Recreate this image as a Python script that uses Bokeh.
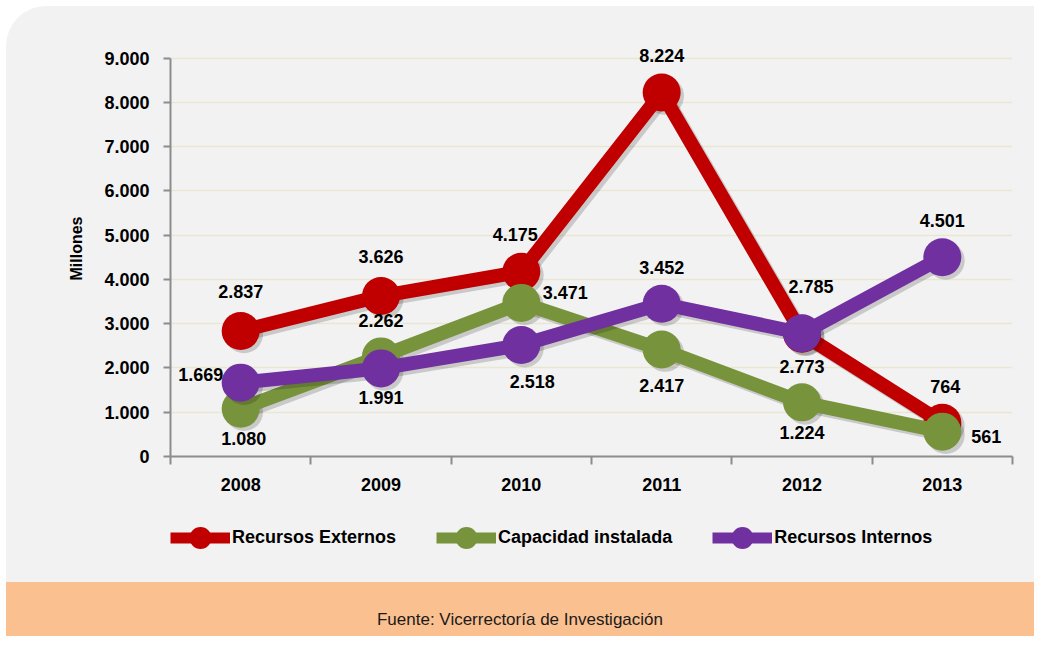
from bokeh.plotting import figure
from bokeh.models import ColumnDataSource, FixedTicker, Legend, LegendItem, CustomJSTickFormatter, Div
from bokeh.layouts import column
from bokeh.transform import dodge
from bokeh.core.properties import value
from bokeh.embed import file_html
from bokeh.resources import INLINE

# ---------------- data ----------------
years = ["2008", "2009", "2010", "2011", "2012", "2013"]
externos = [2837, 3626, 4175, 8224, 2773, 764]
capacidad = [1080, 2262, 3471, 2417, 1224, 561]
internos = [1669, 1991, 2518, 3452, 2785, 4501]
y_ticks = [0, 1000, 2000, 3000, 4000, 5000, 6000, 7000, 8000, 9000]
series_names = ["Recursos Externos", "Capacidad instalada", "Recursos Internos"]
footer_text = "Fuente: Vicerrectoría de Investigación"

# ---------------- styling ----------------
FONT = "Liberation Sans"
BG = "#f2f2f2"
colors = ["#c00000", "#77933c", "#7030a0"]
# label offsets (pixels) per point: (dx, dy), dy positive = down
label_dx = [
    [0, 0, -6, 0, 0, 3],
    [3, 0, 44, 0, 0, 44],
    [-40, 0, 11, 0, 9, 0],
]
label_dy = [
    [-39, -40, -37, -37, 33, -36],
    [30, -36, -10, 36, 30, 5],
    [-8, 29, 36, -36, -47, -37],
]

n = len(years)
xs = [i + 0.5 for i in range(n)]

p = figure(width=1028, height=494, x_range=(0, n), y_range=(0, 9400),
           output_backend="svg", toolbar_location=None,
           min_border_left=164, min_border_right=22, min_border_top=34, min_border_bottom=44)
p.background_fill_alpha = 0
p.border_fill_alpha = 0
p.outline_line_color = None

# x axis
p.xaxis.ticker = FixedTicker(ticks=xs, minor_ticks=list(range(n + 1)))
p.xaxis.formatter = CustomJSTickFormatter(args=dict(labels=years), code="return labels[Math.floor(tick)];")
p.xaxis.major_tick_line_color = None
p.xaxis.major_tick_out = 8
p.xaxis.major_tick_in = 0
p.xaxis.minor_tick_out = 8
p.xaxis.minor_tick_in = 0
p.xaxis.minor_tick_line_color = "#8c8c8c"
p.xaxis.minor_tick_line_width = 2
p.xaxis.axis_line_color = "#8c8c8c"
p.xaxis.axis_line_width = 2
p.xaxis.major_label_standoff = 13
p.xaxis.major_label_text_font = FONT
p.xaxis.major_label_text_font_style = "bold"
p.xaxis.major_label_text_font_size = "18px"
p.xaxis.major_label_text_color = "black"

# y axis
p.yaxis.ticker = FixedTicker(ticks=y_ticks)
p.yaxis.bounds = (y_ticks[0], y_ticks[-1])
p.yaxis.formatter = CustomJSTickFormatter(
    code="return tick.toFixed(0).replace(/\\B(?=(\\d{3})+(?!\\d))/g, '.');")
p.yaxis.major_tick_out = 7
p.yaxis.major_tick_in = 0
p.yaxis.minor_tick_line_color = None
p.yaxis.major_tick_line_color = "#8c8c8c"
p.yaxis.major_tick_line_width = 2
p.yaxis.axis_line_color = "#8c8c8c"
p.yaxis.axis_line_width = 2
p.yaxis.major_label_standoff = 14
p.yaxis.major_label_text_font = FONT
p.yaxis.major_label_text_font_style = "bold"
p.yaxis.major_label_text_font_size = "18px"
p.yaxis.major_label_text_color = "black"
p.yaxis.axis_label = "Millones"
p.yaxis.axis_label_text_font = FONT
p.yaxis.axis_label_text_font_style = "bold"
p.yaxis.axis_label_text_font_size = "16px"
p.yaxis.axis_label_text_color = "black"
p.yaxis.axis_label_standoff = 16

p.xgrid.visible = False
p.ygrid.ticker = FixedTicker(ticks=y_ticks)
p.ygrid.grid_line_color = "#e9e7d4"
p.ygrid.grid_line_width = 1.5

for k, vals in enumerate([externos, capacidad, internos]):
    labels = [f"{v:,}".replace(",", ".") for v in vals]
    src = ColumnDataSource(dict(x=xs, y=vals, label=labels, dx=label_dx[k], dy=label_dy[k]))
    # shadow
    p.line(x=dodge("x", 0.024), y=dodge("y", -75), source=src, line_width=14,
           line_color="black", line_alpha=0.17, line_join="round")
    p.scatter(x=dodge("x", 0.024), y=dodge("y", -75), source=src, size=38,
              fill_color="black", fill_alpha=0.17, line_color=None)
    p.line(x="x", y="y", source=src, line_width=14, line_color=colors[k], line_join="round")
    p.scatter(x="x", y="y", source=src, size=38, fill_color=colors[k], line_color=None)

for k, vals in enumerate([externos, capacidad, internos]):
    labels = [f"{v:,}".replace(",", ".") for v in vals]
    src = ColumnDataSource(dict(x=xs, y=vals, label=labels, dx=label_dx[k], dy=label_dy[k]))
    p.text(x="x", y="y", text="label", source=src, x_offset="dx", y_offset="dy",
           text_font=value(FONT), text_font_style="bold", text_font_size="18px",
           text_align="center", text_baseline="middle", text_color="black")

# ---------------- legend strip ----------------
lg = figure(width=1028, height=82, x_range=(0, 1), y_range=(0, 1),
            x_axis_type=None, y_axis_type=None,
            output_backend="svg", toolbar_location=None,
            min_border_left=129, min_border_right=22, min_border_top=0, min_border_bottom=0)
lg.background_fill_alpha = 0
lg.border_fill_alpha = 0
lg.outline_line_color = None
lg.grid.visible = False
legend_items = []
for k in range(len(series_names)):
    # legend-only renderers, kept outside the visible range
    lr = lg.line(x=[-2, -1], y=[-2, -1], line_width=11, line_color=colors[k])
    sr = lg.scatter(x=[-2], y=[-2], size=20, fill_color=colors[k], line_color=None)
    legend_items.append(LegendItem(label=series_names[k], renderers=[lr, sr]))
legend = Legend(items=legend_items, orientation="horizontal", location=(0, 17),
                glyph_width=60, glyph_height=55, spacing=40, padding=0, margin=0,
                label_standoff=2, background_fill_alpha=0, border_line_alpha=0,
                label_text_font=FONT, label_text_font_style="bold", label_text_font_size="18px",
                label_text_color="black")
lg.add_layout(legend, "center")

footer = Div(text=footer_text, width=1028, height=54, margin=0,
             styles={"background-color": "#fac090", "font-family": FONT, "font-size": "17px",
                     "text-align": "center", "line-height": "76px", "color": "#1a1a1a",
                     "overflow": "hidden"})

layout = column(p, lg, footer, spacing=0, margin=(6, 0, 0, 6),
                styles={"border-top-left-radius": "40px", "overflow": "hidden",
                        "background-color": BG})
open("out.html", "w").write(file_html(layout, INLINE))
